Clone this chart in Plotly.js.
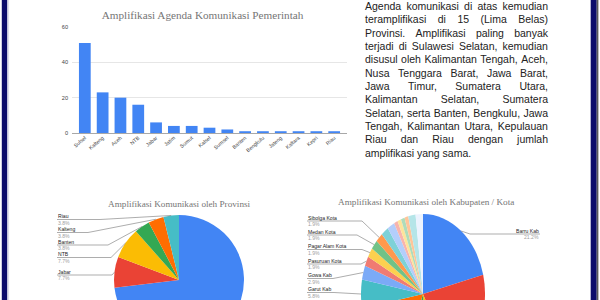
<!DOCTYPE html>
<html><head><meta charset="utf-8">
<script src="https://cdn.plot.ly/plotly-3.0.1.min.js"></script>
<style>
html,body{margin:0;padding:0;background:#fff;}
body{width:600px;height:300px;overflow:hidden;position:relative;}
#pie2{position:absolute;left:361px;top:232px;width:124px;height:124px;transform:scaleY(1.29);transform-origin:50% 50%;z-index:1;}
#main{position:absolute;left:0;top:0;width:600px;height:400px;z-index:2;}
#para{position:absolute;left:365px;top:0;width:183px;font-family:'Liberation Sans',Arial,sans-serif;font-size:10.5px;line-height:13.33px;color:#222;z-index:3;}
#para .ln{display:flex;justify-content:space-between;white-space:nowrap;}
#para .last{display:block;white-space:nowrap;}
</style></head>
<body>
<div id="pie2"></div>
<div id="main"></div>
<div id="para"></div>
<script>
// ---------- data ----------
const barCats = ['Sulsel','Kalteng','Aceh','NTB','Jabar','Jatim','Sumut','Kalsel','Sumsel','Banten','Bengkulu','Jateng','Kaltara','Kepri','Riau'];
const barVals = [51,23,20,16,6,4,4,3,2,1,1,1,1,1,1];
const yTicks = [0,20,40,60];

const provLabels = ['Sulsel','Jabar','NTB','Banten','Kalteng','Riau'];
const provVals = [19,2,2,1,1,1];

const kabLabels = ['Barru Kab','Lainnya 1','Lainnya 2','Lainnya 3','Lainnya 4','Garut Kab','Gowa Kab','Pasuruan Kota','Pagar Alam Kota','Medan Kota','Sibolga Kota','Lainnya 5','Lainnya 6','Lainnya 7','Lainnya 8','Lainnya 9','Lainnya 10','Lainnya 11','Lainnya 12'];
const kabVals = [22,22,7,7,17,6,3,2,2,2,2,2,2,1,1,1,1,2,2];

const paraLines = [
 'Agenda komunikasi di atas kemudian',
 'teramplifikasi di 15 (Lima Belas)',
 'Provinsi. Amplifikasi paling banyak',
 'terjadi di Sulawesi Selatan, kemudian',
 'disusul oleh Kalimantan Tengah, Aceh,',
 'Nusa Tenggara Barat, Jawa Barat,',
 'Jawa Timur, Sumatera Utara,',
 'Kalimantan Selatan, Sumatera',
 'Selatan, serta Banten, Bengkulu, Jawa',
 'Tengah, Kalimantan Utara, Kepulauan',
 'Riau dan Riau dengan jumlah',
 'amplifikasi yang sama.'
];

const palette = ['#4285f4','#ea4335','#fbbc04','#34a853','#ff6d01','#46bdc6','#7baaf7','#f07b72','#fcd04f','#71c287','#ff994d','#7ed1d7','#b3cefb','#f7b4ae','#fde49b','#aedcba','#ffc599','#b5e5e8','#ecf3fe'];

// ---------- paragraph ----------
const para = document.getElementById('para');
paraLines.forEach((l,i)=>{
  const d = document.createElement('div');
  if(i===paraLines.length-1){ d.className='last'; d.textContent=l; }
  else { d.className='ln'; l.split(' ').forEach(w=>{const s=document.createElement('span'); s.textContent=w; d.appendChild(s);}); }
  para.appendChild(d);
});

// ---------- helpers ----------
const W=600,H=400;
const PX = x => x/W, PY = y => 1 - y/H;
function sliceInfo(vals){
  const tot = vals.reduce((a,b)=>a+b,0); let c=0;
  return vals.map(v=>{const m=(c+v/2)/tot*360; c+=v; return {mid:m, pct:(v/tot*100).toFixed(1)+'%'};});
}
const serif = 'Liberation Serif, Times New Roman, serif';
const sans = 'Liberation Sans, Arial, sans-serif';

// label layout (positions only)
const pie1Geo = {cx:179, cy:280, rx:65, ry:65};
const pie1Lab = [ // index, underline y, label x, elbow x
  {i:5, y:219.5, x:57, ex:100},
  {i:4, y:232.5, x:57, ex:88},
  {i:3, y:245, x:57, ex:108},
  {i:2, y:257.5, x:57, ex:111},
  {i:1, y:275, x:57, ex:112}
];
const pie2Geo = {cx:423, cy:294, rx:62, ry:80};
const pie2Lab = [
  {i:10, y:221, x:307, ex:362},
  {i:9, y:235, x:307, ex:357},
  {i:8, y:249.5, x:307, ex:362},
  {i:7, y:264, x:307, ex:361},
  {i:6, y:278.5, x:307, ex:333},
  {i:5, y:292.5, x:307, ex:334}
];
const pie2Right = [{i:0, y:234, x:540, ex:470}];

const annotations = [], shapes = [];
const LF = 5.1, HALF = 3.3;
function addLabels(labels, vals, geo, list, side){
  const info = sliceInfo(vals);
  list.forEach(L=>{
    const a = info[L.i].mid*Math.PI/180;
    const px = geo.cx + geo.rx*Math.sin(a), py = geo.cy - geo.ry*Math.cos(a);
    const xanchor = side==='left' ? 'left' : 'right';
    annotations.push({xref:'paper',yref:'paper',x:PX(L.x),y:PY(L.y-HALF),xanchor:xanchor,yanchor:'middle',showarrow:false,
      text:labels[L.i],font:{family:sans,size:LF,color:'#222'},borderpad:0});
    annotations.push({xref:'paper',yref:'paper',x:PX(L.x),y:PY(L.y+HALF),xanchor:xanchor,yanchor:'middle',showarrow:false,
      text:info[L.i].pct,font:{family:sans,size:LF,color:'#9e9e9e'},borderpad:0});
    shapes.push({type:'path',xref:'paper',yref:'paper',
      path:`M${PX(L.x)},${PY(L.y)} L${PX(L.ex)},${PY(L.y)} L${PX(px)},${PY(py)}`,
      line:{color:'#8a8a8a',width:0.7}});
  });
}
addLabels(provLabels, provVals, pie1Geo, pie1Lab, 'left');
addLabels(kabLabels, kabVals, pie2Geo, pie2Lab, 'left');
addLabels(kabLabels, kabVals, pie2Geo, pie2Right, 'right');

// titles
annotations.push({xref:'paper',yref:'paper',x:PX(179),y:PY(204),xanchor:'center',yanchor:'middle',showarrow:false,
  text:'Amplifikasi Komunikasi oleh Provinsi',font:{family:serif,size:9.2,color:'#757575'}});
annotations.push({xref:'paper',yref:'paper',x:PX(426),y:PY(202),xanchor:'center',yanchor:'middle',showarrow:false,
  text:'Amplifikasi Komunikasi oleh Kabupaten / Kota',font:{family:serif,size:9.2,color:'#757575'}});

// borders
shapes.push({type:'rect',xref:'paper',yref:'paper',x0:PX(1.8),x1:PX(7.3),y0:0,y1:1,fillcolor:'#0d0d6b',line:{width:0},layer:'above'});
shapes.push({type:'rect',xref:'paper',yref:'paper',x0:PX(7.3),x1:PX(8.6),y0:0,y1:1,fillcolor:'#c9c9dd',line:{width:0},layer:'above'});
shapes.push({type:'rect',xref:'paper',yref:'paper',x0:PX(590.7),x1:PX(596.7),y0:0,y1:1,fillcolor:'#0d0d6b',line:{width:0},layer:'above'});
shapes.push({type:'rect',xref:'paper',yref:'paper',x0:PX(596.7),x1:PX(598.4),y0:0,y1:1,fillcolor:'#5a5a5a',line:{width:0},layer:'above'});

const traces = [
  {type:'bar', x:barCats, y:barVals, marker:{color:'#4285f4'}, hoverinfo:'none', xaxis:'x', yaxis:'y'},
  {type:'pie', labels:provLabels, values:provVals, sort:false, direction:'clockwise', rotation:0,
   marker:{colors:palette.slice(0,provVals.length), line:{width:0}}, textinfo:'none', hoverinfo:'none',
   domain:{x:[PX(pie1Geo.cx-pie1Geo.rx),PX(pie1Geo.cx+pie1Geo.rx)], y:[PY(pie1Geo.cy+pie1Geo.ry),PY(pie1Geo.cy-pie1Geo.ry)]}}
];

const layout = {
  width:W, height:H, margin:{l:0,r:0,t:0,b:0}, showlegend:false,
  paper_bgcolor:'rgba(0,0,0,0)', plot_bgcolor:'rgba(0,0,0,0)',
  title:{text:'Amplifikasi Agenda Komunikasi Pemerintah', x:PX(202.5), y:PY(15), xanchor:'center', yanchor:'middle',
    font:{family:serif,size:11.2,color:'#757575'}},
  bargap:0.34,
  xaxis:{domain:[PX(72),PX(347)], type:'category', range:[-0.72,14.72], tickangle:-40, showgrid:false, showline:false, ticks:'',
    tickfont:{family:sans,size:5.2,color:'#444'}, fixedrange:true},
  yaxis:{domain:[PY(133),PY(27)], range:[0,60], tickvals:yTicks, showgrid:true, gridcolor:'#e6e6e6', gridwidth:1,
    zeroline:true, zerolinecolor:'#a8a8a8', zerolinewidth:1, showline:false, ticks:'',
    tickfont:{family:sans,size:5.6,color:'#444'}, ticklabelstandoff:3, fixedrange:true},
  annotations:annotations, shapes:shapes
};
Plotly.newPlot('main', traces, layout, {staticPlot:true});

Plotly.newPlot('pie2', [{type:'pie', labels:kabLabels, values:kabVals, sort:false, direction:'clockwise', rotation:0,
  marker:{colors:palette.slice(0,kabVals.length), line:{width:0}}, textinfo:'none', hoverinfo:'none',
  domain:{x:[0,1],y:[0,1]}}],
  {width:124, height:124, margin:{l:0,r:0,t:0,b:0}, showlegend:false, paper_bgcolor:'rgba(0,0,0,0)'}, {staticPlot:true});
</script>
</body></html>
